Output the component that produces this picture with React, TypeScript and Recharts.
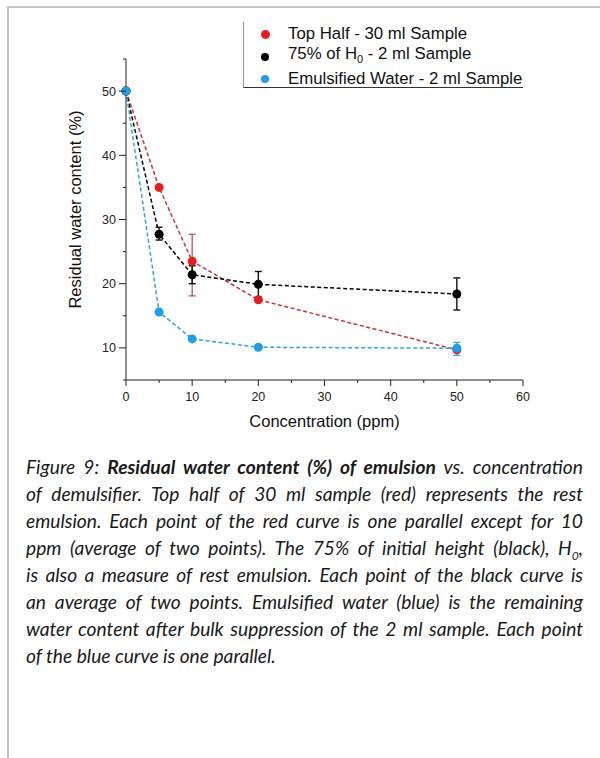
import React from 'react'
import { LineChart, Line, XAxis, YAxis, ErrorBar, Legend } from 'recharts'

// concentration of demulsifier (ppm)
const concentration = [0, 5, 10, 20, 50]

// residual water content (%)
const topHalf = [50, 35, 23.5, 17.5, 9.7]
const topHalfErr: ([number, number] | null)[] = [null, null, [5.4, 4.2], null, null]

const height75 = [50, 27.7, 21.4, 19.9, 18.4]
const height75Err: ([number, number] | null)[] = [null, [0.9, 1.1], [1.4, 1.4], [2, 2], [2.5, 2.5]]

const emulsified = [50, 15.6, 11.4, 10.1, 9.95]
const emulsifiedErr: ([number, number] | null)[] = [null, null, null, null, [1.1, 0.9]]

const xTicks = [0, 5, 10, 15, 20, 25, 30, 35, 40, 45, 50, 55, 60]
const yTicks = [5, 10, 15, 20, 25, 30, 35, 40, 45, 50, 55]

const captionLines = [
  'of demulsifier. Top half of 30 ml sample (red) represents the rest',
  'emulsion. Each point of the red curve is one parallel except for 10',
]
const captionLines2 = [
  'is also a measure of rest emulsion. Each point of the black curve is',
  'an average of two points. Emulsified water (blue) is the remaining',
  'water content after bulk suppression of the 2 ml sample. Each point',
]

const toRows = (ys: number[], errs: ([number, number] | null)[]) =>
  concentration.map((x, i) => ({ x, y: ys[i], err: errs[i] }))

const red = '#ec1c1c'
const black = '#000000'
const blue = '#1a9fe8'

const AXIS_FONT = '"Liberation Sans", Arial, sans-serif'

function XTick({ x, y, payload }: any) {
  const major = payload.value % 10 === 0
  return (
    <g>
      <line x1={x} x2={x} y1={y} y2={y + (major ? 6 : 3)} stroke="#222" strokeWidth={1} />
      {major && (
        <text x={x} y={y + 21} textAnchor="middle" fontSize={12.5} fill="#222" fontFamily={AXIS_FONT}>
          {payload.value}
        </text>
      )}
    </g>
  )
}

function YTick({ x, y, payload }: any) {
  const major = payload.value % 10 === 0
  return (
    <g>
      <line x1={x - (major ? 7 : 3)} x2={x} y1={y} y2={y} stroke="#222" strokeWidth={1} />
      {major && (
        <text x={x - 10} y={y + 4.5} textAnchor="end" fontSize={12.5} fill="#222" fontFamily={AXIS_FONT}>
          {payload.value}
        </text>
      )}
    </g>
  )
}

function LegendBox() {
  const items = [
    { color: red, r: 4.5, label: <>Top Half - 30 ml Sample</> },
    { color: black, r: 4, label: <>75% of H<sub style={{ fontSize: 11 }}>0</sub> - 2 ml Sample</> },
    { color: blue, r: 4, label: <>Emulsified Water - 2 ml Sample</> },
  ]
  return (
    <div
      style={{
        width: 280,
        height: 66,
        borderLeft: '1px solid #9a9a9a',
        borderBottom: '1px solid #333',
        boxSizing: 'border-box',
        fontFamily: AXIS_FONT,
        fontSize: 16.8,
        color: '#111',
        paddingTop: 2,
      }}
    >
      {items.map((it, i) => (
        <div key={i} style={{ display: 'flex', alignItems: 'center', height: i === 1 ? 22 : 20, marginTop: i === 1 ? 2 : i === 2 ? 1 : 0 }}>
          <span
            style={{
              display: 'inline-block',
              width: it.r * 2,
              height: it.r * 2,
              borderRadius: '50%',
              background: it.color,
              marginLeft: 21 - it.r,
              marginRight: 23 - it.r,
            }}
          />
          <span style={{ lineHeight: '18px', whiteSpace: 'nowrap' }}>{it.label}</span>
        </div>
      ))}
    </div>
  )
}

const justify: React.CSSProperties = { textAlign: 'justify', textAlignLast: 'justify', whiteSpace: 'nowrap' }

export default function App() {
  return (
    <div style={{ position: 'absolute', left: 0, top: 0, width: 600, height: 758, background: '#fff', overflow: 'hidden' }}>
      <div
        style={{
          position: 'absolute',
          left: 7,
          top: 6,
          width: 600,
          height: 760,
          borderTop: '2px solid #c6c6c6',
          borderLeft: '2px solid #c6c6c6',
        }}
      />
      <div style={{ position: 'absolute', left: 0, top: 0 }}>
        <LineChart width={600} height={440} margin={{ top: 59, right: 77, bottom: 0, left: 0 }}>
          <XAxis
            type="number"
            dataKey="x"
            domain={[0, 60]}
            ticks={xTicks}
            interval={0}
            height={60}
            tickSize={0}
            tickMargin={0}
            tick={<XTick />}
            stroke="#222"
            label={{
              value: 'Concentration (ppm)',
              position: 'center',
              dy: 11,
              fontSize: 16.5,
              fill: '#111',
              fontFamily: AXIS_FONT,
            }}
          />
          <YAxis
            type="number"
            dataKey="y"
            domain={[5, 55]}
            ticks={yTicks}
            interval={0}
            width={126}
            tickSize={0}
            tickMargin={0}
            tick={<YTick />}
            stroke="#222"
            label={{
              value: 'Residual water content (%)',
              angle: -90,
              position: 'center',
              dx: 12,
              dy: -10,
              fontSize: 16.5,
              fill: '#111',
              fontFamily: AXIS_FONT,
            }}
          />
          <Legend
            layout="horizontal"
            verticalAlign="middle"
            align="center"
            wrapperStyle={{ top: 22, left: 243, width: 280, height: 66 }}
            content={() => <LegendBox />}
          />
          <Line
            data={toRows(topHalf, topHalfErr)}
            dataKey="y"
            name="Top Half - 30 ml Sample"
            type="linear"
            stroke="#c9323e"
            strokeWidth={1.5}
            strokeDasharray="4 2.5"
            dot={{ r: 4.5, fill: red, stroke: red, strokeWidth: 0 }}
            isAnimationActive={false}
          >
            <ErrorBar dataKey="err" width={3.5} stroke="#b04848" strokeWidth={1.2} direction="y" />
          </Line>
          <Line
            data={toRows(height75, height75Err)}
            dataKey="y"
            name="75% of H0 - 2 ml Sample"
            type="linear"
            stroke={black}
            strokeWidth={1.5}
            strokeDasharray="4 2.5"
            dot={{ r: 4.5, fill: black, stroke: black, strokeWidth: 0 }}
            isAnimationActive={false}
          >
            <ErrorBar dataKey="err" width={3.5} stroke="#111" strokeWidth={1.4} direction="y" />
          </Line>
          <Line
            data={toRows(emulsified, emulsifiedErr)}
            dataKey="y"
            name="Emulsified Water - 2 ml Sample"
            type="linear"
            stroke="#2ba5dc"
            strokeWidth={1.5}
            strokeDasharray="4 2.5"
            dot={{ r: 4.5, fill: blue, stroke: blue, strokeWidth: 0 }}
            isAnimationActive={false}
          >
            <ErrorBar dataKey="err" width={3.5} stroke="#3b9fd6" strokeWidth={1.2} direction="y" />
          </Line>
        </LineChart>
      </div>
      <div
        style={{
          position: 'absolute',
          left: 26,
          top: 453,
          width: 557,
          fontFamily: 'Lato, "Open Sans", sans-serif',
          fontStyle: 'italic',
          fontSize: 19.2,
          lineHeight: '27px',
          color: '#1a1a1a',
        }}
      >
        <div style={justify}>
          Figure 9: <b>Residual water content (%) of emulsion</b> vs. concentration
        </div>
        {captionLines.map((t, i) => (
          <div key={i} style={justify}>{t}</div>
        ))}
        <div style={justify}>
          ppm (average of two points). The 75% of initial height (black), H<sub style={{ fontSize: 12, lineHeight: 0 }}>0</sub>,
        </div>
        {captionLines2.map((t, i) => (
          <div key={i} style={justify}>{t}</div>
        ))}
        <div>of the blue curve is one parallel.</div>
      </div>
    </div>
  )
}
